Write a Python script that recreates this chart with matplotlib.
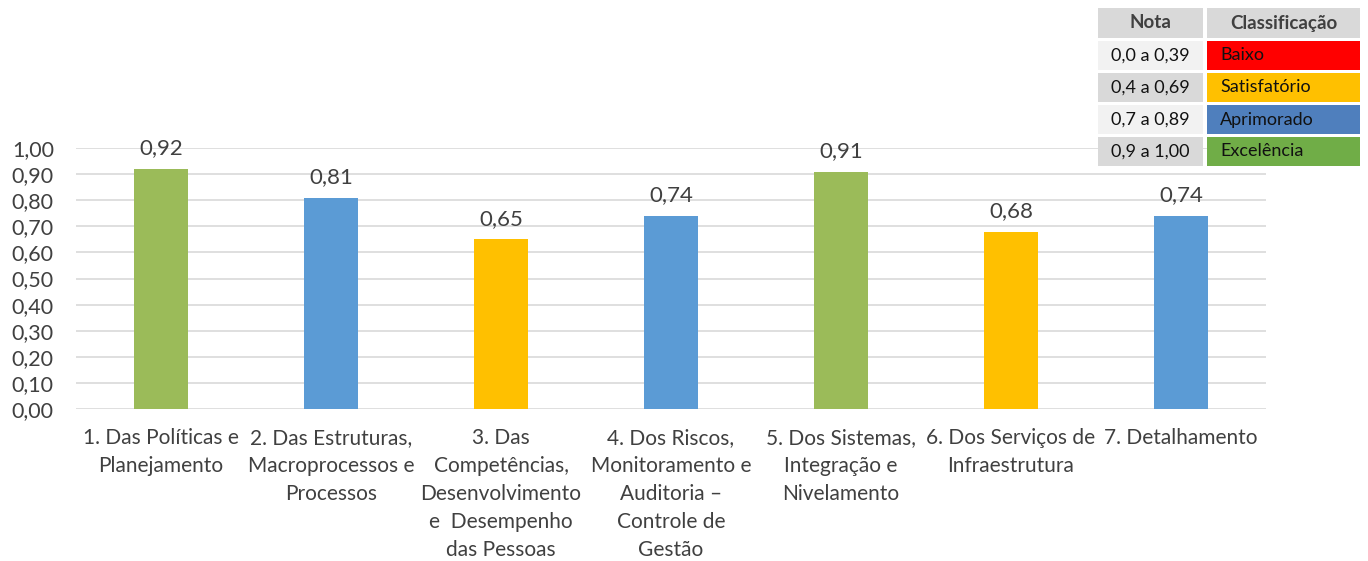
import matplotlib.pyplot as plt
from matplotlib.patches import Rectangle

# Data
CATEGORIES = [
    "1. Das Políticas e\nPlanejamento",
    "2. Das Estruturas,\nMacroprocessos e\nProcessos",
    "3. Das\nCompetências,\nDesenvolvimento\ne  Desempenho\ndas Pessoas",
    "4. Dos Riscos,\nMonitoramento e\nAuditoria –\nControle de\nGestão",
    "5. Dos Sistemas,\nIntegração e\nNivelamento",
    "6. Dos Serviços de\nInfraestrutura",
    "7. Detalhamento",
]
VALUES = [0.92, 0.81, 0.65, 0.74, 0.91, 0.68, 0.74]
YTICKS = [0.0, 0.1, 0.2, 0.3, 0.4, 0.5, 0.6, 0.7, 0.8, 0.9, 1.0]

TABLE_NOTA = ["0,0 a 0,39", "0,4 a 0,69", "0,7 a 0,89", "0,9 a 1,00"]
TABLE_CLASS = ["Baixo", "Satisfatório", "Aprimorado", "Excelência"]
TABLE_COLORS = ["#FF0000", "#FFC000", "#4F7FBD", "#70AD47"]

TEXT = "#404040"
plt.rcParams['font.family'] = ['Lato', 'DejaVu Sans']


def bar_color(v):
    if v >= 0.9:
        return "#9BBB59"
    if v >= 0.7:
        return "#5B9BD5"
    if v >= 0.4:
        return "#FFC000"
    return "#FF0000"


fig = plt.figure(figsize=(13.68, 5.61), dpi=100)
ax = fig.add_axes([0.0556, 0.271, 0.8698, 0.465])

x = list(range(len(VALUES)))
ax.bar(x, VALUES, width=0.32, color=[bar_color(v) for v in VALUES], zorder=3)
for xi, v in zip(x, VALUES):
    ax.text(xi, v + 0.04, f"{v:.2f}".replace(".", ","), ha="center", va="bottom",
            fontsize=16, color=TEXT)

ax.set_xlim(-0.5, len(VALUES) - 0.5)
ax.set_ylim(0, 1.0)
ax.set_yticks(YTICKS)
ax.set_yticklabels([f"{t:.2f}".replace(".", ",") for t in YTICKS], fontsize=15.5, color=TEXT)
ax.set_xticks(x)
ax.set_xticklabels(CATEGORIES, fontsize=15, color=TEXT, linespacing=1.5, va="top")
ax.tick_params(axis="both", length=0)
ax.tick_params(axis="y", pad=16)
ax.tick_params(axis="x", pad=14)
ax.grid(axis="y", color="#D9D9D9", linewidth=1.2, zorder=0)
ax.set_axisbelow(True)
for s in ax.spines.values():
    s.set_visible(False)

# classification table in figure pixels
W, H = 1368, 561


def cell(x0, y0, w, h, color, text, bold=False, ha="center", tx=None):
    fig.patches.append(Rectangle((x0 / W, 1 - (y0 + h) / H), w / W, h / H,
                                 transform=fig.transFigure, facecolor=color,
                                 edgecolor="none", zorder=5))
    px = x0 + w / 2 if tx is None else tx
    fig.text(px / W, 1 - (y0 + h / 2) / H, text, ha=ha, va="center",
             fontsize=13.5 if bold else 13, color=TEXT if bold else "#111111",
             fontweight="bold" if bold else "normal", zorder=6)


cell(1098, 8, 105, 30, "#D9D9D9", "Nota", bold=True)
cell(1207, 8, 153, 30, "#D9D9D9", "Classificação", bold=True)
row_bg = ["#F2F2F2", "#D9D9D9", "#F2F2F2", "#D9D9D9"]
for i, (n, c, col) in enumerate(zip(TABLE_NOTA, TABLE_CLASS, TABLE_COLORS)):
    y0 = 41 + i * 32
    cell(1098, y0, 105, 29, row_bg[i], n)
    cell(1207, y0, 153, 29, col, c, ha="left", tx=1220)

fig.savefig("out.png", dpi=100)
